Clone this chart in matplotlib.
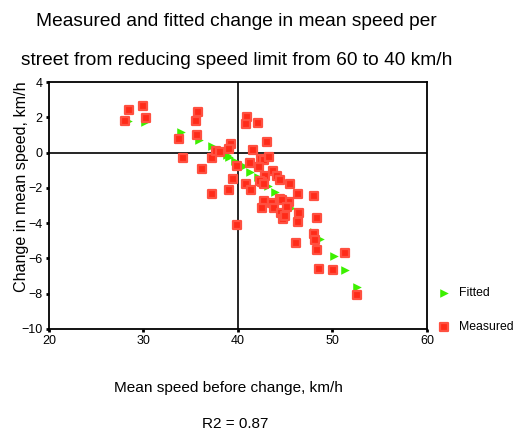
import matplotlib
matplotlib.use("Agg")
import matplotlib.pyplot as plt
from matplotlib.markers import MarkerStyle

plt.rcParams['font.family'] = ['Liberation Sans', 'DejaVu Sans']

# measured change per street (mean speed before, change in mean speed)
measured_x = [28.5, 29.9, 30.3, 28.0, 33.8, 35.8, 35.6, 35.7, 34.2, 37.2,
              37.7, 38.1, 39.3, 39.1, 39.9, 36.2, 39.5, 39.0, 37.2, 41.0,
              40.8, 42.1, 43.1, 41.6, 42.4, 42.8, 43.3, 41.3, 42.2, 43.7,
              44.1, 44.4, 42.9, 42.5, 42.3, 42.7, 40.9, 41.4, 45.5, 46.3,
              48.0, 42.7, 43.6, 44.4, 45.4, 42.5, 43.8, 44.7, 44.5, 44.8,
              45.0, 45.2, 46.5, 46.3, 48.4, 48.0, 48.2, 46.1, 48.4, 51.3,
              48.6, 50.1, 52.6, 39.9]
measured_y = [2.43, 2.64, 1.96, 1.81, 0.79, 2.28, 1.81, 1.01, -0.31, -0.31,
              0.09, 0.03, 0.50, 0.22, -0.76, -0.95, -1.50, -2.12, -2.33, 2.03,
              1.62, 1.69, 0.60, 0.13, -0.35, -0.42, -0.23, -0.61, -0.84, -1.06,
              -1.31, -1.56, -1.33, -1.65, -1.60, -1.78, -1.78, -2.12, -1.80, -2.33,
              -2.46, -2.73, -2.88, -2.62, -2.82, -3.14, -3.14, -2.69, -3.41, -3.78,
              -3.60, -3.07, -3.41, -3.95, -3.70, -4.62, -4.96, -5.11, -5.52, -5.67,
              -6.62, -6.67, -8.06, -4.10]

# fitted change
fitted_x = [28.4, 30.2, 34.0, 35.9, 37.3, 38.8, 39.1, 39.7, 40.6, 41.3,
            42.1, 42.6, 43.2, 43.9, 44.6, 45.3, 45.6, 46.3, 48.0, 48.7,
            50.2, 51.3, 52.6]
fitted_y = [1.79, 1.71, 1.15, 0.69, 0.37, -0.14, -0.23, -0.48, -0.76, -1.08,
            -1.37, -1.60, -1.90, -2.22, -2.60, -2.92, -3.12, -3.56, -4.49, -4.90,
            -5.86, -6.67, -7.62]

x_ticks = [20, 30, 40, 50, 60]
y_ticks = [4, 2, 0, -2, -4, -6, -8, -10]

fig = plt.figure(figsize=(5.19, 4.30), dpi=100)
ax = fig.add_axes([0.0944, 0.2349, 0.7283, 0.5744])

ax.axhline(0, color='black', lw=1.2, zorder=1)
ax.axvline(40, color='black', lw=1.2, zorder=1)

ax.scatter(fitted_x, fitted_y, marker='>', s=38, color='#3cf000',
           linewidths=0, label='Fitted', zorder=2)
# rounded squares for measured values
sq = MarkerStyle('s', joinstyle='round')
ax.scatter(measured_x, measured_y, marker=sq, s=26, facecolor='#ff2a18',
           edgecolor='#ff5040', linewidths=1.6, label='Measured', zorder=3)

ax.set_xlim(20, 60)
ax.set_ylim(-10, 4)
ax.set_xticks(x_ticks)
ax.set_yticks(y_ticks)
ax.tick_params(direction='out', length=2.5, width=2, labelsize=9, pad=2)
for s in ax.spines.values():
    s.set_linewidth(1.3)

fig.text(0.042, 0.567, 'Change in mean speed, km/h', rotation=90,
         ha='center', va='center', fontsize=11.6)
fig.text(0.440, 0.098, 'Mean speed before change, km/h', ha='center', va='center', fontsize=11.1)
fig.text(0.453, 0.014, 'R2 = 0.87', ha='center', va='center', fontsize=11)

fig.text(0.456, 0.950, 'Measured and fitted change in mean speed per',
         ha='center', va='center', fontsize=13.8)
fig.text(0.456, 0.860, 'street from reducing speed limit from 60 to 40 km/h',
         ha='center', va='center', fontsize=13.8)

ax.legend(loc='lower left', bbox_to_anchor=(1.0, -0.06), frameon=False,
          fontsize=8.8, labelspacing=1.8, handletextpad=0.7, handlelength=1.0)

fig.savefig('out.png', dpi=100)
